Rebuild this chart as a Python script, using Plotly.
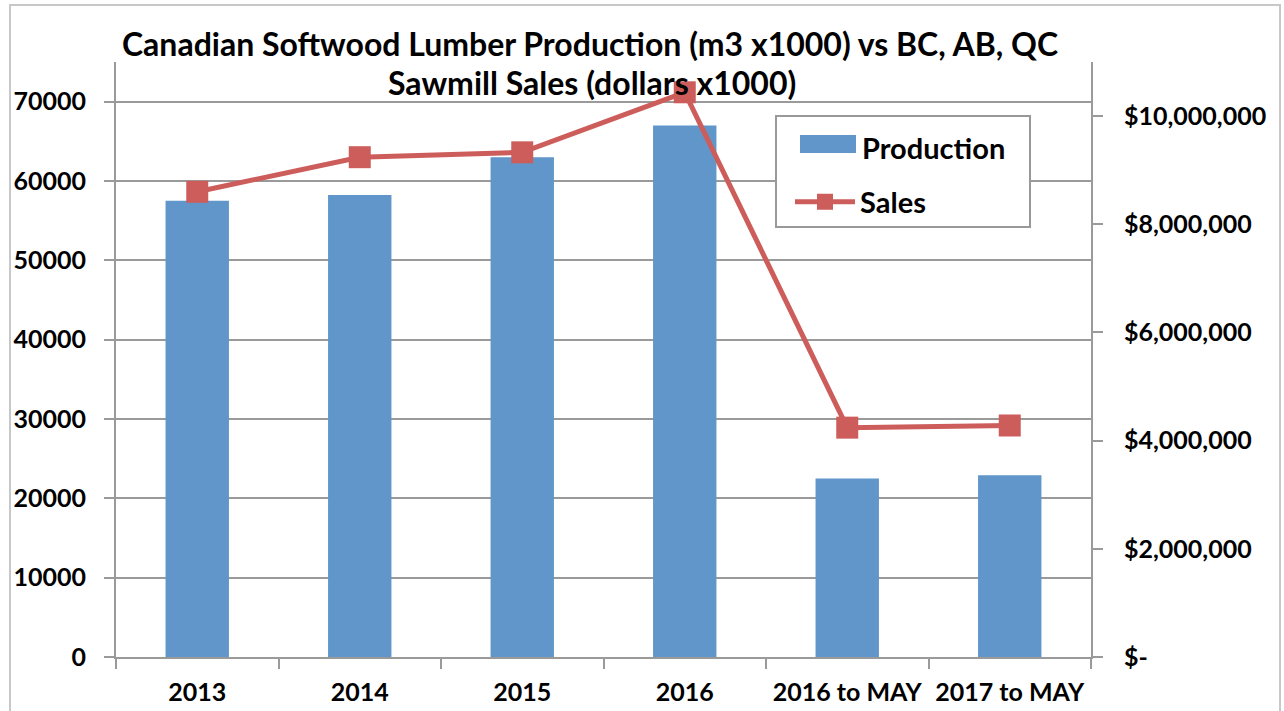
import plotly.graph_objects as go

# chart data
categories = ["2013", "2014", "2015", "2016", "2016 to MAY", "2017 to MAY"]
production = [57500, 58250, 63000, 67000, 22500, 22900]
sales = [8600000, 9240000, 9330000, 10440000, 4240000, 4280000]

sales_ticks = [0, 2000000, 4000000, 6000000, 8000000, 10000000]
sales_tick_labels = ["$-", "$2,000,000", "$4,000,000", "$6,000,000", "$8,000,000", "$10,000,000"]

FONT = "Lato"
GRID = "#9a9a9a"
BAR_COLOR = "#6096c9"
LINE_COLOR = "#cd5d5b"
TICKFONT = dict(family=FONT, size=25, weight="bold", color="black")
LEGFONT = dict(family=FONT, size=29, color="black")

# plot area in pixels (for placing the legend box)
L, R, T, B = 116, 1091, 62, 657


def px_x(x):
    return (x - L) / (R - L)


def px_y(y):
    return (B - y) / (B - T)


fig = go.Figure()

fig.add_trace(go.Bar(
    x=categories, y=production, name="Production",
    marker=dict(color=BAR_COLOR, line=dict(width=0)),
    width=0.39, yaxis="y", showlegend=False,
))

fig.add_trace(go.Scatter(
    x=categories, y=sales, name="<b>Sales</b>", mode="lines+markers",
    line=dict(color=LINE_COLOR, width=5),
    marker=dict(symbol="square", size=22, color=LINE_COLOR),
    yaxis="y2",
))

# outer chart border
fig.add_shape(type="rect", xref="paper", yref="paper",
              x0=px_x(10), x1=px_x(1280), y0=px_y(760), y1=px_y(5),
              line=dict(color="#c8c8c8", width=2), layer="below")

# legend box
fig.add_shape(type="rect", xref="paper", yref="paper",
              x0=px_x(776), x1=px_x(1030), y0=px_y(227), y1=px_y(116),
              line=dict(color="#999999", width=2), fillcolor="white", layer="above")

# wide swatch for the bar entry (Excel style)
fig.add_shape(type="rect", xref="paper", yref="paper",
              x0=px_x(800), x1=px_x(856), y0=px_y(153), y1=px_y(135),
              line=dict(width=0), fillcolor=BAR_COLOR, layer="above")
fig.add_annotation(
    text="<b>Production</b>", xref="paper", yref="paper",
    x=px_x(860), y=px_y(147), xanchor="left", yanchor="middle", showarrow=False,
    font=LEGFONT,
)

# second title line
fig.add_annotation(
    text="<b>Sawmill Sales (dollars x1000)</b>", xref="paper", yref="paper",
    x=px_x(592), y=px_y(82), xanchor="center", yanchor="middle", showarrow=False,
    font=dict(family=FONT, size=32, color="black"),
)

fig.update_layout(
    width=1284, height=711,
    margin=dict(l=L, r=1284 - R, t=T, b=711 - B),
    paper_bgcolor="white", plot_bgcolor="white",
    font=dict(family=FONT, size=20, color="black"),
    title=dict(
        text="<b>Canadian Softwood Lumber Production (m3 x1000) vs BC, AB, QC</b>",
        x=590 / 1284, xanchor="center", y=1 - 45 / 711, yanchor="middle",
        font=dict(family=FONT, size=32, color="black"),
    ),
    bargap=0.61,
    showlegend=True,
    legend=dict(x=px_x(790), y=px_y(202), xanchor="left", yanchor="middle",
                bgcolor="rgba(0,0,0,0)", borderwidth=0, font=LEGFONT, itemwidth=60),
    xaxis=dict(
        type="category", tickson="boundaries", ticks="outside", ticklen=10,
        tickcolor=GRID, tickwidth=2, showline=True, linecolor=GRID, linewidth=2,
        showgrid=False, tickfont=TICKFONT, ticklabelstandoff=12, automargin=False,
    ),
    yaxis=dict(
        range=[0, 75000], dtick=10000, tickformat="d",
        showgrid=True, gridcolor=GRID, gridwidth=2,
        showline=True, linecolor=GRID, linewidth=2,
        ticks="outside", ticklen=10, tickcolor=GRID, tickwidth=2,
        zeroline=False, tickfont=TICKFONT, ticklabelstandoff=13, automargin=False,
    ),
    yaxis2=dict(
        range=[0, 11000000], overlaying="y", side="right",
        tickvals=sales_ticks, ticktext=sales_tick_labels,
        showgrid=False, zeroline=False,
        showline=True, linecolor=GRID, linewidth=2,
        ticks="outside", ticklen=10, tickcolor=GRID, tickwidth=2,
        tickfont=TICKFONT, ticklabelstandoff=16, automargin=False,
    ),
)

fig.write_html("out.html", config={"displayModeBar": False},
               post_script="document.body.style.margin='0';")
